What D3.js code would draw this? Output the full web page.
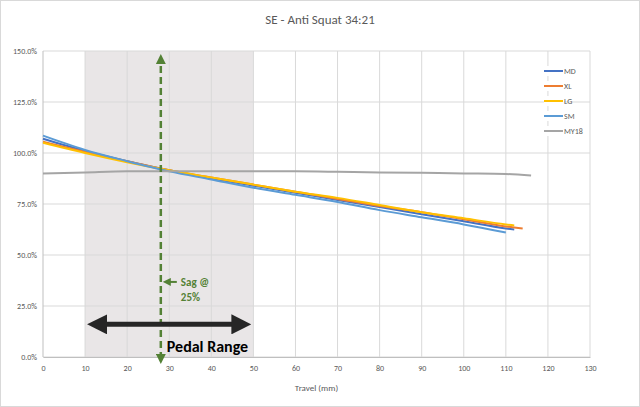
<!DOCTYPE html>
<html><head><meta charset="utf-8">
<script src="https://cdn.jsdelivr.net/npm/d3@7"></script>
<style>body{margin:0;background:#fff;font-family:Calibri,Carlito,"Liberation Sans",sans-serif}</style>
</head><body>
<svg id="chart" width="640" height="407"></svg>
<script>
var travel = [0,10,20,30,40,50,60,70,80,90,100,110];
var md   = [107,101,96,91.5,87.5,84,80.5,77,73.5,70,66.5,63];
var xl   = [105.5,100.5,96,91.5,88,84.5,81,77.5,74,71,67.5,64];
var lg   = [105,100,95.5,91.5,88,84.5,81,78,74.5,71,68,65];
var sm   = [108.5,101.5,96,91,87,83,79.5,76,72,68.5,65,61];
var my18 = [90,90.5,91,91,91,91,91,90.8,90.5,90.3,90,89.7];
var series = [
  {name:'MD', color:'#4472c4', pts: travel.map(function(t,i){return [t,md[i]];}).concat([[112,62.5]])},
  {name:'XL', color:'#ed7d31', pts: travel.map(function(t,i){return [t,xl[i]];}).concat([[114,63]])},
  {name:'LG', color:'#ffc000', pts: travel.map(function(t,i){return [t,lg[i]];}).concat([[112,64.5]])},
  {name:'SM', color:'#5b9bd5', pts: travel.map(function(t,i){return [t,sm[i]];})},
  {name:'MY18', color:'#a5a5a5', pts: travel.map(function(t,i){return [t,my18[i]];}).concat([[116,89]])}
];
var pedalRange = [10,50], sagTravel = 28;

var svg = d3.select('#chart');
svg.append('rect').attr('x',0.5).attr('y',0.5).attr('width',639).attr('height',406)
  .attr('fill','#fff').attr('stroke','#d9d9d9');
var x = d3.scaleLinear().domain([0,130]).range([43,590]);
var y = d3.scaleLinear().domain([0,150]).range([357,51]);

svg.append('rect').attr('x',x(pedalRange[0])).attr('y',y(150))
  .attr('width',x(pedalRange[1])-x(pedalRange[0])).attr('height',y(0)-y(150)).attr('fill','#e9e6e7');

var g = svg.append('g');
d3.range(0,151,25).forEach(function(v){
  g.append('line').attr('x1',x(0)).attr('x2',x(130)).attr('y1',y(v)).attr('y2',y(v)).attr('stroke','#d9d9d9');
});
d3.range(10,131,10).forEach(function(v){
  g.append('line').attr('x1',x(v)).attr('x2',x(v)).attr('y1',y(0)).attr('y2',y(150)).attr('stroke','#d9d9d9');
});
svg.append('line').attr('x1',x(0)).attr('x2',x(0)).attr('y1',y(0)).attr('y2',y(150)).attr('stroke','#bfbfbf');

var xa = svg.append('g').attr('transform','translate(0,'+y(0)+')')
  .call(d3.axisBottom(x).tickValues(d3.range(0,131,10)).tickSize(0).tickPadding(8));
xa.select('.domain').attr('stroke','#bfbfbf');
var ya = svg.append('g').attr('transform','translate('+x(0)+',0)')
  .call(d3.axisLeft(y).tickValues(d3.range(0,151,25)).tickSize(0).tickPadding(6).tickFormat(function(d){return d.toFixed(1)+'%';}));
ya.select('.domain').remove();
svg.selectAll('.tick text').attr('fill','#595959').attr('font-size',8).attr('font-family','Calibri,Carlito,"Liberation Sans",sans-serif');

var line = d3.line().x(function(d){return x(d[0]);}).y(function(d){return y(d[1]);}).curve(d3.curveMonotoneX);
series.forEach(function(s){
  svg.append('path').attr('d',line(s.pts)).attr('fill','none').attr('stroke',s.color).attr('stroke-width',2);
});

var defs = svg.append('defs');
function marker(id,color){
  defs.append('marker').attr('id',id).attr('viewBox','0 0 10 10').attr('refX',5).attr('refY',5)
    .attr('markerWidth',4).attr('markerHeight',4).attr('orient','auto-start-reverse')
    .append('path').attr('d','M0,0L10,5L0,10z').attr('fill',color);
}
marker('ga','#538135'); marker('ka','#262626'); marker('gs','#538135');
svg.append('line').attr('x1',x(sagTravel)).attr('x2',x(sagTravel)).attr('y1',y(0)+2).attr('y2',y(150)+8)
  .attr('stroke','#538135').attr('stroke-width',2.5).attr('stroke-dasharray','7,4')
  .attr('marker-start','url(#ga)').attr('marker-end','url(#ga)');
svg.append('line').attr('x1',x(pedalRange[0])+12).attr('x2',x(pedalRange[1])-12).attr('y1',y(16)).attr('y2',y(16))
  .attr('stroke','#262626').attr('stroke-width',5).attr('marker-start','url(#ka)').attr('marker-end','url(#ka)');
svg.append('line').attr('x1',x(sagTravel)+16).attr('x2',x(sagTravel)+6).attr('y1',y(36.8)).attr('y2',y(36.8))
  .attr('stroke','#538135').attr('stroke-width',2).attr('marker-end','url(#gs)');
svg.append('text').attr('x',x(sagTravel)+20).attr('y',y(36.8)+4).attr('fill','#538135')
  .attr('font-size',11).attr('font-weight','bold').text('Sag @');
svg.append('text').attr('x',x(sagTravel)+20).attr('y',y(36.8)+19).attr('fill','#538135')
  .attr('font-size',11).attr('font-weight','bold').text('25%');
svg.append('text').attr('x',x(sagTravel)+6).attr('y',y(0)-5).attr('fill','#000')
  .attr('font-size',16).attr('font-weight','bold').text('Pedal Range');

svg.append('text').attr('x',320).attr('y',24).attr('text-anchor','middle').attr('fill','#595959')
  .attr('font-size',13).text('SE - Anti Squat 34:21');
svg.append('text').attr('x',x(65)).attr('y',391).attr('text-anchor','middle').attr('fill','#595959')
  .attr('font-size',9).text('Travel (mm)');

var lgd = svg.append('g').selectAll('g').data(series).join('g')
  .attr('transform',function(d,i){return 'translate(544,'+(71+i*15)+')';});
lgd.append('rect').attr('width',20).attr('height',10).attr('y',-5).attr('fill','#fff');
lgd.append('line').attr('x1',0).attr('x2',19).attr('stroke',function(d){return d.color;}).attr('stroke-width',2);
lgd.append('text').attr('x',20).attr('y',3).attr('font-size',8).attr('fill','#595959').text(function(d){return d.name;});
</script>
</body></html>
